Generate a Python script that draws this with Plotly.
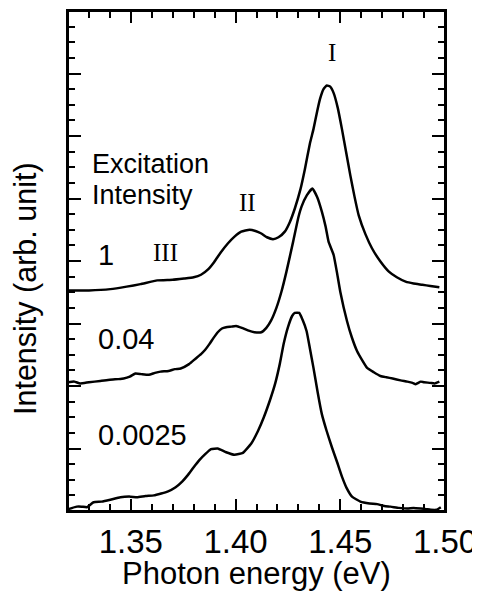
import plotly.graph_objects as go

# ---- data (Photon energy in eV, intensity in arbitrary offset units) ----
x_i1 = [1.3200, 1.3300, 1.3402, 1.3480, 1.3546, 1.3626, 1.3700, 1.3754, 1.3800, 1.3835,
        1.3870, 1.3899, 1.3930, 1.3963, 1.3995, 1.4027, 1.4067, 1.4095, 1.4123, 1.4150,
        1.4179, 1.4205, 1.4235, 1.4260, 1.4283, 1.4310, 1.4331, 1.4355, 1.4372, 1.4390,
        1.4403, 1.4420, 1.4436, 1.4452, 1.4468, 1.4488, 1.4508, 1.4528, 1.4548, 1.4568,
        1.4588, 1.4620, 1.4652, 1.4690, 1.4732, 1.4770, 1.4812, 1.4850, 1.4892, 1.4930,
        1.4973]
y_i1 = [3.53, 3.53, 3.55, 3.59, 3.63, 3.69, 3.70, 3.72, 3.74, 3.78,
        3.87, 3.99, 4.14, 4.28, 4.39, 4.47, 4.50, 4.48, 4.44, 4.38,
        4.35, 4.38, 4.47, 4.63, 4.84, 5.15, 5.47, 5.88, 6.11, 6.40,
        6.59, 6.75, 6.81, 6.79, 6.69, 6.45, 6.11, 5.74, 5.37, 5.03,
        4.73, 4.43, 4.20, 4.00, 3.83, 3.74, 3.67, 3.64, 3.62, 3.60,
        3.58]

x_i004 = [1.3200, 1.3230, 1.3258, 1.3300, 1.3354, 1.3400, 1.3440, 1.3466, 1.3495, 1.3522,
          1.3550, 1.3586, 1.3615, 1.3642, 1.3680, 1.3710, 1.3738, 1.3778, 1.3810, 1.3835,
          1.3855, 1.3875, 1.3895, 1.3915, 1.3935, 1.3955, 1.3980, 1.4003, 1.4030, 1.4059,
          1.4090, 1.4123, 1.4147, 1.4170, 1.4195, 1.4220, 1.4243, 1.4275, 1.4300, 1.4315,
          1.4340, 1.4367, 1.4390, 1.4412, 1.4430, 1.4444, 1.4468, 1.4485, 1.4500, 1.4532,
          1.4555, 1.4580, 1.4605, 1.4628, 1.4660, 1.4692, 1.4720, 1.4750, 1.4788, 1.4820,
          1.4845, 1.4860, 1.4884, 1.4900, 1.4930, 1.4950, 1.4973]
y_i004 = [2.06, 2.07, 2.04, 2.06, 2.08, 2.10, 2.11, 2.12, 2.15, 2.20,
          2.19, 2.18, 2.21, 2.23, 2.24, 2.27, 2.28, 2.35, 2.44, 2.51,
          2.58, 2.67, 2.77, 2.86, 2.92, 2.94, 2.95, 2.96, 2.93, 2.89,
          2.86, 2.86, 2.93, 3.05, 3.25, 3.52, 3.83, 4.31, 4.70, 4.87,
          5.05, 5.16, 5.02, 4.79, 4.55, 4.31, 4.10, 3.80, 3.51, 3.04,
          2.78, 2.56, 2.41, 2.29, 2.22, 2.16, 2.14, 2.12, 2.09, 2.07,
          2.05, 2.03, 2.07, 2.06, 2.05, 2.04, 2.07]

x_i00025 = [1.3201, 1.3242, 1.3265, 1.3290, 1.3322, 1.3360, 1.3402, 1.3450, 1.3498, 1.3530,
            1.3570, 1.3610, 1.3645, 1.3675, 1.3714, 1.3745, 1.3771, 1.3800, 1.3826, 1.3855,
            1.3883, 1.3915, 1.3955, 1.3995, 1.4035, 1.4075, 1.4107, 1.4135, 1.4165, 1.4190,
            1.4211, 1.4230, 1.4251, 1.4270, 1.4283, 1.4304, 1.4320, 1.4339, 1.4355, 1.4372,
            1.4392, 1.4412, 1.4435, 1.4460, 1.4485, 1.4508, 1.4530, 1.4556, 1.4596, 1.4640,
            1.4676, 1.4710, 1.4740, 1.4780, 1.4820, 1.4850, 1.4884, 1.4910, 1.4932, 1.4960,
            1.4980]
y_i00025 = [0.03, 0.07, 0.07, 0.06, 0.14, 0.15, 0.18, 0.22, 0.23, 0.22,
            0.24, 0.25, 0.28, 0.31, 0.38, 0.47, 0.57, 0.70, 0.81, 0.91,
            0.99, 1.00, 0.94, 0.90, 0.93, 1.08, 1.28, 1.50, 1.78, 2.05,
            2.35, 2.68, 2.95, 3.12, 3.17, 3.17, 3.06, 2.88, 2.60, 2.29,
            1.90, 1.55, 1.28, 1.02, 0.78, 0.55, 0.37, 0.23, 0.15, 0.12,
            0.11, 0.08, 0.07, 0.05, 0.04, 0.05, 0.04, 0.03, 0.02, 0.02,
            0.06]

x_range = [1.32, 1.50]
y_range = [0, 8]
x_tick_vals = [1.35, 1.40, 1.45, 1.50]
x_tick_text = ["1.35", "1.40", "1.45", "1.50"]

# labels: (text, x, y)
series_labels = [("1", 1.3383, 4.09), ("0.04", 1.3479, 2.75), ("0.0025", 1.3556, 1.21)]
header_lines = [("Excitation", 1.3306, 5.55), ("Intensity", 1.3306, 5.06)]
peak_labels = [("I", 1.4460, 7.33), ("II", 1.4056, 4.94), ("III", 1.3666, 4.13)]

SANS = "Liberation Sans, Arial, sans-serif"
SERIF = "Liberation Serif, Times New Roman, serif"

fig = go.Figure()
for xs, ys in [(x_i1, y_i1), (x_i004, y_i004), (x_i00025, y_i00025)]:
    fig.add_trace(go.Scatter(x=xs, y=ys, mode="lines",
                             line=dict(color="black", width=2.5, shape="spline", smoothing=0.4),
                             showlegend=False, hoverinfo="skip"))

annotations = []
for t, x, y in series_labels:
    annotations.append(dict(text=t, x=x, y=y, xref="x", yref="y", showarrow=False,
                            xanchor="center", yanchor="middle",
                            font=dict(family=SANS, size=29, color="black")))
for t, x, y in header_lines:
    annotations.append(dict(text=t, x=x, y=y, xref="x", yref="y", showarrow=False,
                            xanchor="left", yanchor="middle",
                            font=dict(family=SANS, size=27, color="black")))
for t, x, y in peak_labels:
    annotations.append(dict(text=t, x=x, y=y, xref="x", yref="y", showarrow=False,
                            xanchor="center", yanchor="middle",
                            font=dict(family=SERIF, size=25, color="black")))
annotations.append(dict(text="Photon energy (eV)", x=0.5, y=-0.1255, xref="paper", yref="paper",
                        showarrow=False, xanchor="center", yanchor="middle",
                        font=dict(family=SANS, size=31, color="black")))
annotations.append(dict(text="Intensity (arb. unit)", x=-0.114, y=0.444, xref="paper", yref="paper",
                        showarrow=False, xanchor="center", yanchor="middle", textangle=-90,
                        font=dict(family=SANS, size=30.5, color="black")))

# page body keeps an 8px margin, so the figure is sized to the window minus that offset
fig.update_layout(
    width=472, height=589,
    margin=dict(l=60, r=35, t=1, b=86),
    paper_bgcolor="white", plot_bgcolor="white",
    annotations=annotations,
    shapes=[dict(type="rect", xref="paper", yref="paper", x0=0, x1=1, y0=0, y1=1,
                 line=dict(color="black", width=2), fillcolor="rgba(0,0,0,0)", layer="above")],
    xaxis=dict(range=x_range, tickmode="array", tickvals=x_tick_vals, ticktext=x_tick_text,
               ticks="inside", ticklen=12, tickwidth=2, tickcolor="black",
               minor=dict(tickmode="linear", tick0=1.32, dtick=0.01, ticks="inside",
                          ticklen=7, tickwidth=2, tickcolor="black"),
               showline=True, linecolor="black", linewidth=2, mirror="ticks",
               showgrid=False, zeroline=False, ticklabeloverflow="allow",
               tickfont=dict(family=SANS, size=33, color="black")),
    yaxis=dict(range=y_range, tickmode="linear", tick0=0, dtick=1,
               ticks="inside", ticklen=13, tickwidth=2, tickcolor="black",
               minor=dict(tickmode="linear", tick0=0, dtick=0.25, ticks="inside",
                          ticklen=7, tickwidth=2, tickcolor="black"),
               showline=True, linecolor="black", linewidth=2, mirror="ticks",
               showgrid=False, zeroline=False, showticklabels=False),
)

fig.write_html("out.html")
